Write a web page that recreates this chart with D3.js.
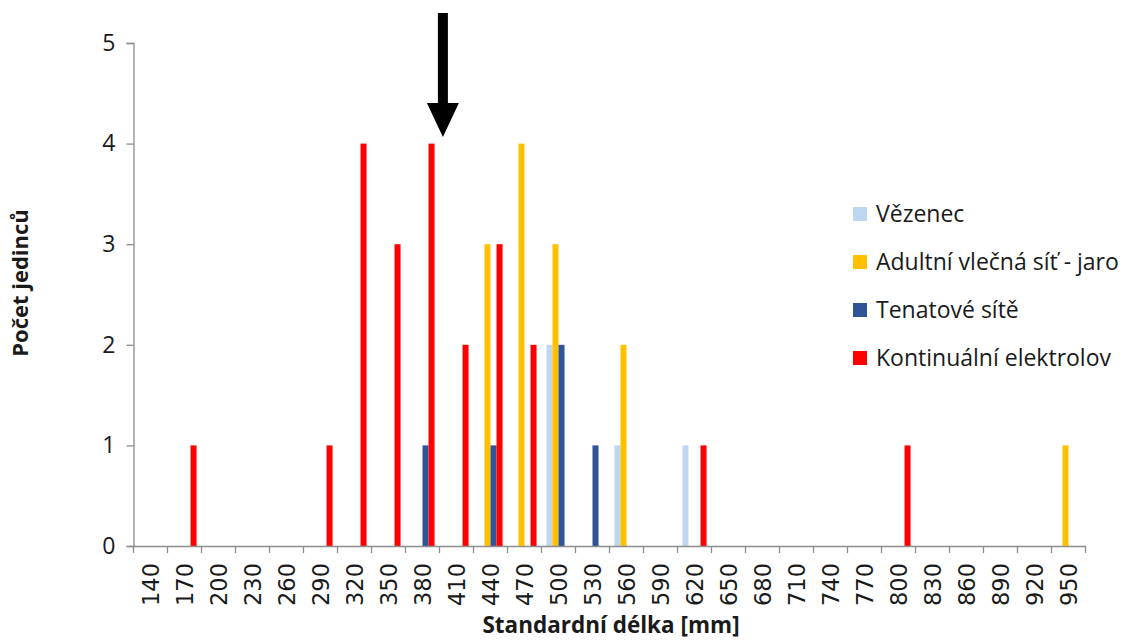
<!DOCTYPE html>
<html>
<head>
<meta charset="utf-8">
<script src="https://cdn.jsdelivr.net/npm/d3@7/dist/d3.min.js"></script>
<style>
  html, body { margin: 0; padding: 0; background: #fff; }
  svg { display: block; }
</style>
</head>
<body>
<svg id="chart" width="1125" height="640"></svg>
<script>
// ---- data ----
const categories = ["140","170","200","230","260","290","320","350","380","410","440","470","500","530","560","590","620","650","680","710","740","770","800","830","860","890","920","950"];
const seriesNames = ["Vězenec", "Adultní vlečná síť - jaro", "Tenatové sítě", "Kontinuální elektrolov"];
const vezenec      = [0,0,0,0,0,0,0,0,0,0,0,0,2,0,1,0,1,0,0,0,0,0,0,0,0,0,0,0];
const adultniJaro  = [0,0,0,0,0,0,0,0,0,0,3,4,3,0,2,0,0,0,0,0,0,0,0,0,0,0,0,1];
const tenatove     = [0,0,0,0,0,0,0,0,1,0,1,0,2,1,0,0,0,0,0,0,0,0,0,0,0,0,0,0];
const kontinualni  = [0,1,0,0,0,1,4,3,4,2,3,2,0,0,0,0,1,0,0,0,0,0,1,0,0,0,0,0];
const yTicks = [0,1,2,3,4,5];
const seriesColors = ["#BDD7EE", "#FFC000", "#2F5597", "#FF0000"];
const arrowAt = 398; // mm, annotation arrow position

const seriesValues = [vezenec, adultniJaro, tenatove, kontinualni];

// ---- layout ----
const svg = d3.select("#chart");
const x0 = 133.5, x1 = 1085.5, yBottom = 546, yTop = 43;

const x = d3.scaleBand().domain(categories).range([x0, x1]).paddingInner(0).paddingOuter(0);
const xs = d3.scaleBand().domain(seriesNames).range([0, x.bandwidth()]).paddingInner(0).paddingOuter(0.82);
const y = d3.scaleLinear().domain([0, 5]).range([yBottom, yTop]);

const axisColor = "#8c8c8c";
const textColor = "#1a1a1a";

// bars
seriesNames.forEach((name, si) => {
  svg.append("g").selectAll("rect")
    .data(categories.map((c, i) => ({c, v: seriesValues[si][i]})).filter(d => d.v > 0))
    .join("rect")
    .attr("x", d => x(d.c) + xs(name))
    .attr("width", xs.bandwidth())
    .attr("y", d => y(d.v))
    .attr("height", d => y(0) - y(d.v))
    .attr("fill", seriesColors[si]);
});

// y axis
const yAxis = svg.append("g")
  .attr("transform", `translate(${x0},0)`)
  .call(d3.axisLeft(y).tickValues(yTicks).tickFormat(d3.format("d")).tickSize(7).tickPadding(11));
yAxis.select(".domain").attr("stroke", axisColor).attr("stroke-width", 1.3);
yAxis.selectAll(".tick line").attr("stroke", axisColor).attr("stroke-width", 1.3);
yAxis.selectAll(".tick text")
  .attr("fill", textColor)
  .style("font-family", "'Open Sans', sans-serif")
  .style("font-size", "23px");

// x axis
const xAxis = svg.append("g")
  .attr("transform", `translate(0,${yBottom})`)
  .call(d3.axisBottom(x).tickSize(0).tickPadding(0));
xAxis.select(".domain").attr("stroke", axisColor).attr("stroke-width", 1.3);
xAxis.selectAll(".tick text")
  .attr("fill", textColor)
  .style("font-family", "'DejaVu Sans', sans-serif")
  .style("font-size", "22.5px")
  .attr("text-anchor", "end")
  .attr("transform", "translate(0,17) rotate(-90)")
  .attr("x", 0)
  .attr("y", 0)
  .attr("dy", "0.36em");
// boundary ticks
const boundaries = categories.map(c => x(c)).concat([x1]);
xAxis.append("g").selectAll("line")
  .data(boundaries)
  .join("line")
  .attr("x1", d => d).attr("x2", d => d)
  .attr("y1", 0).attr("y2", 7)
  .attr("stroke", axisColor).attr("stroke-width", 1.3);

// axis titles
svg.append("text")
  .attr("x", 611)
  .attr("y", 633)
  .attr("text-anchor", "middle")
  .attr("fill", textColor)
  .style("font-family", "'Open Sans', sans-serif")
  .style("font-weight", "bold")
  .style("font-size", "22.5px")
  .text("Standardní délka [mm]");

svg.append("text")
  .attr("transform", `translate(28,283) rotate(-90)`)
  .attr("text-anchor", "middle")
  .attr("fill", textColor)
  .style("font-family", "'Open Sans', sans-serif")
  .style("font-weight", "bold")
  .style("font-size", "22px")
  .text("Počet jedinců");

// legend
const legend = svg.append("g").attr("transform", "translate(853,214)");
seriesNames.forEach((name, i) => {
  const g = legend.append("g").attr("transform", `translate(0,${i * 48})`);
  g.append("rect").attr("x", 0).attr("y", -7).attr("width", 14).attr("height", 14).attr("fill", seriesColors[i]);
  g.append("text")
    .attr("x", 23).attr("y", 0).attr("dy", "0.35em")
    .attr("fill", textColor)
    .style("font-family", "'Open Sans', sans-serif")
    .style("font-size", "23px")
    .text(name);
});

// annotation arrow
const xLin = d3.scaleLinear()
  .domain([+categories[0], +categories[categories.length - 1]])
  .range([x(categories[0]) + x.bandwidth() / 2, x(categories[categories.length - 1]) + x.bandwidth() / 2]);
const ax = xLin(arrowAt);
svg.append("path")
  .attr("d", `M${ax - 5},13 L${ax + 5},13 L${ax + 5},103 L${ax + 16},103 L${ax},137 L${ax - 16},103 L${ax - 5},103 Z`)
  .attr("fill", "#000");
</script>
</body>
</html>
